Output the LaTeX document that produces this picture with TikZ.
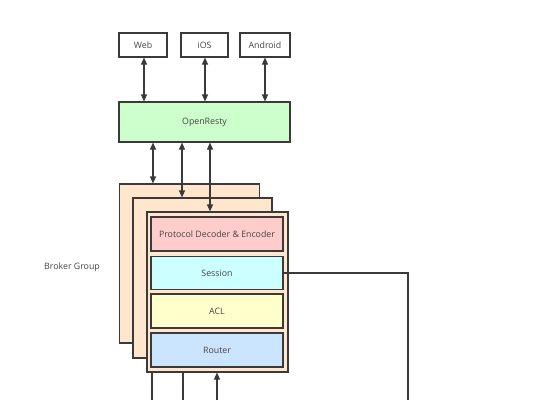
\documentclass[tikz,border=0pt]{standalone}
\usepackage{fontspec}
\setmainfont{Open Sans}
\usetikzlibrary{arrows.meta}
\definecolor{ln}{HTML}{3A3A3A}
\definecolor{txt}{HTML}{444444}
\definecolor{gr}{HTML}{CCFFCC}
\definecolor{peach}{HTML}{FFE6CC}
\definecolor{pink}{HTML}{FFCCCC}
\definecolor{cyanb}{HTML}{CCFFFF}
\definecolor{yel}{HTML}{FFFFCC}
\definecolor{blu}{HTML}{CCE5FF}
\begin{document}
\begin{tikzpicture}[x=1pt,y=-1pt,
  box/.style={draw=ln,line width=1.1pt,inner sep=0pt,font=\fontsize{8.8}{10}\selectfont,text=txt},
  con/.style={draw=ln,line width=1.1pt},
  arr/.style={con,{Triangle[length=7pt,width=6pt]}-{Triangle[length=7pt,width=6pt]}},
  uarr/.style={con,-{Triangle[length=7pt,width=6pt]}}]
\useasboundingbox (0,0) rectangle (536,400);
% clients
\node[box,fill=white,minimum width=48pt,minimum height=24pt] (web) at (143,45) {Web};
\node[box,fill=white,minimum width=47pt,minimum height=24pt] (ios) at (204.5,45) {iOS};
\node[box,fill=white,minimum width=50pt,minimum height=24pt] (android) at (265,45) {Android};
\node[box,fill=gr,minimum width=171pt,minimum height=40pt] (or) at (204.5,122) {OpenResty};
\coordinate (x1) at (144,0);
\coordinate (x2) at (205,0);
\coordinate (x3) at (265,0);
\draw[arr] (web.south -| x1) -- (or.north -| x1);
\draw[arr] (ios.south -| x2) -- (or.north -| x2);
\draw[arr] (android.south -| x3) -- (or.north -| x3);
% broker stack
\node[box,fill=peach,minimum width=140pt,minimum height=159pt] (b1) at (189.5,263.5) {};
\node[box,fill=peach,minimum width=139pt,minimum height=160pt] (b2) at (202.5,278) {};
\node[box,fill=peach,minimum width=141pt,minimum height=160pt] (b3) at (217.5,292) {};
\coordinate (y1) at (153,0);
\coordinate (y2) at (182,0);
\coordinate (y3) at (210,0);
\draw[arr] (or.south -| y1) -- (b1.north -| y1);
\draw[arr] (or.south -| y2) -- (b2.north -| y2);
\draw[arr] (or.south -| y3) -- (b3.north -| y3);
\node[box,fill=pink,minimum width=132pt,minimum height=34pt] (pde) at (217,234) {Protocol Decoder \& Encoder};
\node[box,fill=cyanb,minimum width=132pt,minimum height=33pt] (sess) at (217,273) {Session};
\node[box,fill=yel,minimum width=132pt,minimum height=34pt] (acl) at (217,311) {ACL};
\node[box,fill=blu,minimum width=132pt,minimum height=34pt] (router) at (217,350) {Router};
\node[font=\fontsize{8.8}{10}\selectfont,text=txt] (bg) at (72,267) {Broker Group};
% bottom connectors
\coordinate (e1) at (152,400);
\coordinate (e2) at (183,400);
\coordinate (e3) at (217,400);
\coordinate (e4) at (408,400);
\draw[con] (b3.south -| e1) -- (e1);
\draw[con] (b3.south -| e2) -- (e2);
\draw[uarr] (e3) -- (b3.south -| e3);
\draw[con] (sess.east) -- (sess.east -| e4) -- (e4);
\end{tikzpicture}
\end{document}
